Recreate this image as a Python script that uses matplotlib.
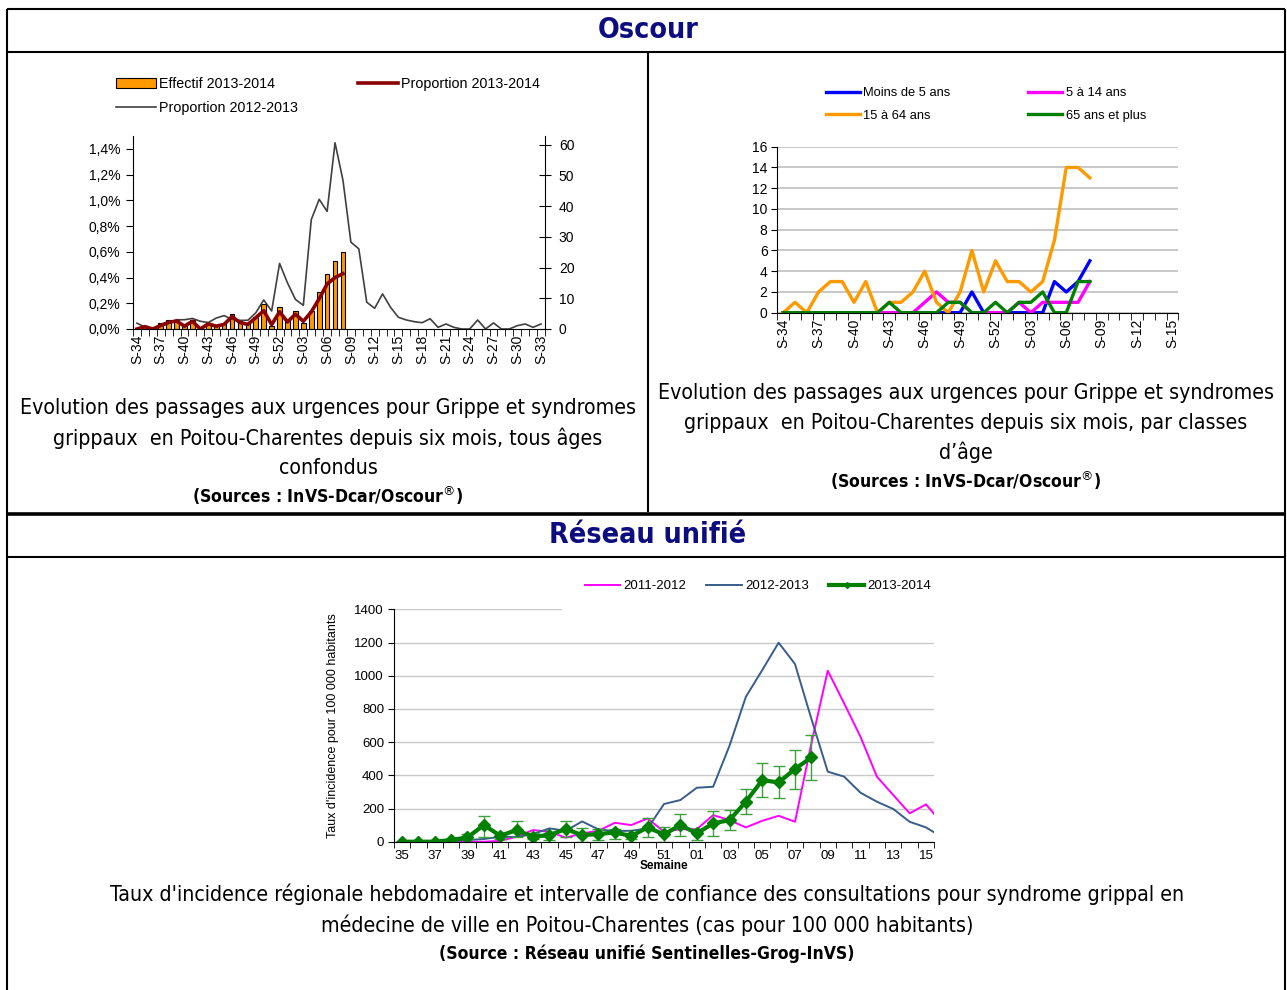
import matplotlib
matplotlib.use("Agg")
import matplotlib.pyplot as plt
import numpy as np
from matplotlib import font_manager as fm
from matplotlib.lines import Line2D

W, H = 1287, 990

# Oscour, all ages : S-34 .. S-33
weeks_all = list(range(34, 53)) + list(range(1, 34))
labels_all = ["S-%02d" % w for w in weeks_all]
effectif_1314 = [0, 1, 0, 2, 3, 3, 1, 3, 0, 2, 1, 2, 5, 3, 2, 4, 8, 1, 7, 3, 6, 2, 6, 12, 18, 22, 25]
prop_1314 = [0.0, 0.018, 0.0, 0.028, 0.052, 0.062, 0.022, 0.06, 0.0, 0.04, 0.022, 0.036, 0.096, 0.05,
             0.036, 0.088, 0.142, 0.034, 0.134, 0.055, 0.115, 0.06, 0.133, 0.235, 0.35, 0.4, 0.43]
prop_1213 = [0.045, 0.016, 0.0, 0.02, 0.042, 0.072, 0.072, 0.082, 0.06, 0.05, 0.085, 0.104, 0.075,
             0.067, 0.068, 0.126, 0.226, 0.14, 0.51, 0.358, 0.23, 0.184, 0.85, 1.008, 0.914, 1.447,
             1.156, 0.675, 0.623, 0.208, 0.161, 0.273, 0.169, 0.091, 0.07, 0.057, 0.049, 0.08, 0.013,
             0.039, 0.013, 0.0, 0.0, 0.07, 0.0, 0.047, 0.0, 0.0, 0.026, 0.039, 0.013, 0.039]

# Oscour by age group : S-34 .. S-15
weeks_age = list(range(34, 53)) + list(range(1, 16))
labels_age = ["S-%02d" % w for w in weeks_age]
age_moins5 = [0, 0, 0, 0, 0, 0, 0, 0, 0, 0, 0, 0, 0, 0, 0, 0, 2, 0, 0, 0, 0, 0, 0, 3, 2, 3, 5]
age_5_14 = [0, 0, 0, 0, 0, 0, 0, 0, 0, 0, 0, 0, 1, 2, 1, 1, 0, 0, 0, 0, 1, 0, 1, 1, 1, 1, 3]
age_15_64 = [0, 1, 0, 2, 3, 3, 1, 3, 0, 1, 1, 2, 4, 1, 0, 2, 6, 2, 5, 3, 3, 2, 3, 7, 14, 14, 13]
age_65 = [0, 0, 0, 0, 0, 0, 0, 0, 0, 1, 0, 0, 0, 0, 1, 1, 0, 0, 1, 0, 1, 1, 2, 0, 0, 3, 3]

# Reseau unifie : weeks 35 .. 15 (week 16 only shows as the line leaving the frame)
weeks_ru = list(range(35, 53)) + list(range(1, 17))
labels_ru = ["%02d" % w for w in weeks_ru]
inc_1112 = [0, 0, 0, 0, 0, 0, 5, 30, 70, 60, 24, 50, 66, 114, 100, 140, 60, 75, 75, 160, 130, 86,
            126, 156, 120, 592, 1030, 833, 632, 392, 281, 171, 225, 109]
inc_1213 = [0, 0, 0, 5, 10, 16, 30, 28, 46, 80, 66, 122, 74, 64, 66, 80, 227, 251, 325, 331, 578,
            873, 1034, 1199, 1070, 740, 422, 392, 295, 241, 197, 120, 86, 26]
inc_1314 = [0, 0, 0, 10, 26, 100, 36, 70, 30, 40, 76, 40, 46, 56, 34, 86, 44, 100, 50, 110, 130,
            241, 371, 357, 438, 508]
ic_bas = [0, 0, 0, 5, 14, 30, 14, 26, 14, 10, 26, 0, 10, 14, 14, 30, 0, 36, 10, 32, 70, 167, 271,
          261, 319, 371]
ic_haut = [0, 0, 0, 15, 44, 157, 54, 122, 50, 54, 127, 84, 78, 78, 50, 140, 90, 165, 78, 187, 191,
           319, 472, 456, 550, 643]

plt.rcParams["font.family"] = ["Liberation Sans", "DejaVu Sans"]
NAVY = "#0d0d80"


# look for a narrow face for the captions, fall back on Liberation Sans
def narrow_font(bold):
    for f in fm.fontManager.ttflist:
        fn = f.fname.lower()
        if not any(k in fn for k in ("narrow", "condensed")):
            continue
        if "italic" in fn or "oblique" in fn:
            continue
        if ("bold" in fn) != bold:
            continue
        return fm.FontProperties(fname=f.fname)
    return None


cap_reg = narrow_font(False)
cap_bold = narrow_font(True)
if cap_reg is not None and cap_bold is not None:
    CAP_SIZE, SRC_SIZE, TITLE_SIZE = 15.3, 12.6, 20.5
else:
    cap_reg = fm.FontProperties(family="Liberation Sans")
    cap_bold = fm.FontProperties(family="Liberation Sans", weight="bold")
    CAP_SIZE, SRC_SIZE, TITLE_SIZE = 14.2, 12, 20


def fx(x):
    return x / W


def fy(y):
    return 1 - y / H


fig = plt.figure(figsize=(W / 100, H / 100), dpi=100)


def line(xs, ys, lw=1.5):
    fig.add_artist(Line2D([fx(v) for v in xs], [fy(v) for v in ys], transform=fig.transFigure,
                          color="black", lw=lw, solid_capstyle="butt"))


# table frame
line([7, 1285], [9, 9])
line([7, 7], [9, 990])
line([1285, 1285], [9, 990])
line([7, 1285], [52, 52])
line([648, 648], [52, 512])
line([7, 1285], [513.5, 513.5], lw=2.6)
line([7, 1285], [557, 557])

fig.text(fx(648), fy(30), "Oscour", ha="center", va="center", fontproperties=cap_bold,
         fontsize=TITLE_SIZE, color=NAVY)
fig.text(fx(648), fy(535), "Réseau unifié", ha="center", va="center", fontproperties=cap_bold,
         fontsize=TITLE_SIZE, color=NAVY)


def caption(xc, ys, lines, bold_line):
    for y, t in zip(ys[:-1], lines):
        fig.text(fx(xc), fy(y), t, ha="center", va="center", fontproperties=cap_reg,
                 fontsize=CAP_SIZE)
    fig.text(fx(xc), fy(ys[-1]), bold_line, ha="center", va="center", fontproperties=cap_bold,
             fontsize=SRC_SIZE)


src = r"(Sources : InVS-Dcar/Oscour$^{\circledR}$)"
caption(328, [408, 438, 468, 496],
        ["Evolution des passages aux urgences pour Grippe et syndromes",
         "grippaux  en Poitou-Charentes depuis six mois, tous âges", "confondus"], src)
caption(966, [393, 423, 452, 481],
        ["Evolution des passages aux urgences pour Grippe et syndromes",
         "grippaux  en Poitou-Charentes depuis six mois, par classes", "d\u2019âge"], src)
caption(647, [894, 925, 954],
        ["Taux d'incidence régionale hebdomadaire et intervalle de confiance des consultations pour syndrome grippal en",
         "médecine de ville en Poitou-Charentes (cas pour 100 000 habitants)"],
        "(Source : Réseau unifié Sentinelles-Grog-InVS)")

# ---------------- chart 1 : all ages
ax1 = fig.add_axes([fx(133), fy(329), 412 / W, 193 / H])
ax2 = ax1.twinx()
ax1.set_zorder(ax2.get_zorder() + 1)
ax1.patch.set_visible(False)
x1 = np.arange(len(weeks_all))
bars = ax2.bar(x1[:len(effectif_1314)], effectif_1314, width=0.6, color="#ff9900",
               edgecolor="black", linewidth=0.8)
g, = ax1.plot(x1, prop_1213, color="#404040", lw=1.2)
r, = ax1.plot(x1[:len(prop_1314)], prop_1314, color="#8b0000", lw=2.6)
ax1.set_xlim(-0.5, len(weeks_all) - 0.5)
ax1.set_ylim(0, 1.5)
ax2.set_ylim(0, 62.8)
ax1.set_yticks(np.arange(0, 1.41, 0.2))
ax1.set_yticklabels([("%.1f%%" % v).replace(".", ",") for v in np.arange(0, 1.41, 0.2)])
ax2.set_yticks(range(0, 61, 10))
ax1.set_xticks(x1[::3])
ax1.set_xticklabels(labels_all[::3], rotation=90)
ax1.set_xticks(np.arange(-0.5, len(weeks_all), 1), minor=True)
ax1.tick_params(axis="x", which="major", length=0, pad=4, labelsize=10)
ax1.tick_params(axis="x", which="minor", length=5, direction="out")
ax1.tick_params(axis="y", length=5, labelsize=10, pad=4)
ax2.tick_params(axis="y", length=8, direction="inout", labelsize=10, pad=6)
for s in ["top", "right"]:
    ax1.spines[s].set_visible(False)
for s in ["top", "left", "bottom"]:
    ax2.spines[s].set_visible(False)
ax1.legend([bars, g, r], ["Effectif 2013-2014", "Proportion 2012-2013", "Proportion 2013-2014"],
           ncol=2, loc="center", bbox_to_anchor=(fx(328), fy(96)), bbox_transform=fig.transFigure,
           frameon=False, fontsize=10.3, handlelength=2.8, handletextpad=0.2, columnspacing=4.2,
           labelspacing=0.75)

# ---------------- chart 2 : by age
ax3 = fig.add_axes([fx(777.3), fy(312.7), 401 / W, 166 / H])
x3 = np.arange(len(weeks_age))
n = len(age_moins5)
l1, = ax3.plot(x3[:n], age_moins5, color="#0000ff", lw=2.4)
l2, = ax3.plot(x3[:n], age_5_14, color="#ff00ff", lw=2.4)
l3, = ax3.plot(x3[:n], age_15_64, color="#ff9900", lw=2.4)
l4, = ax3.plot(x3[:n], age_65, color="#008000", lw=2.4)
ax3.set_xlim(-0.5, len(weeks_age) - 0.5)
ax3.set_ylim(0, 16)
ax3.set_yticks(range(0, 17, 2))
ax3.yaxis.grid(True, color="#bfbfbf", lw=1.2)
ax3.set_axisbelow(True)
ax3.set_xticks(x3[::3])
ax3.set_xticklabels(labels_age[::3], rotation=90)
ax3.set_xticks(np.arange(-0.5, len(weeks_age), 1), minor=True)
ax3.tick_params(axis="x", which="major", length=0, pad=4, labelsize=10)
ax3.tick_params(axis="x", which="minor", length=5, direction="out")
ax3.tick_params(axis="y", length=4, labelsize=10, pad=3)
for s in ["top", "right"]:
    ax3.spines[s].set_visible(False)
ax3.legend([l1, l3, l2, l4], ["Moins de 5 ans", "15 à 64 ans", "5 à 14 ans", "65 ans et plus"],
           ncol=2, loc="center", bbox_to_anchor=(fx(986), fy(104.5)), bbox_transform=fig.transFigure,
           frameon=False, fontsize=9.3, handlelength=2.6, handletextpad=0.3, columnspacing=6,
           labelspacing=0.8)

# ---------------- chart 3 : reseau unifie
ax4 = fig.add_axes([fx(393.8), fy(841.7), 540.4 / W, 232.4 / H])
x4 = np.arange(len(weeks_ru))
p1, = ax4.plot(x4, inc_1112, color="#ff00ff", lw=1.4)
p2, = ax4.plot(x4, inc_1213, color="#385d8a", lw=1.4)
m = len(inc_1314)
v = np.array(inc_1314)
ax4.errorbar(x4[:m], v, yerr=[v - np.array(ic_bas), np.array(ic_haut) - v], fmt="none",
             ecolor="#3ca03c", elinewidth=1, capsize=4, capthick=1)
p3, = ax4.plot(x4[:m], v, color="#008000", lw=3, marker="D", markersize=6)
ax4.set_xlim(-0.5, 32.5)
ax4.set_ylim(0, 1400)
ax4.set_yticks(range(0, 1401, 200))
ax4.yaxis.grid(True, color="#c8c8c8", lw=1)
ax4.set_axisbelow(True)
ax4.set_xticks(x4[:33:2])
ax4.set_xticklabels(labels_ru[:33:2])
ax4.set_xticks(np.arange(-0.5, 33, 1), minor=True)
ax4.tick_params(axis="x", which="major", length=0, pad=6, labelsize=9.5)
ax4.tick_params(axis="x", which="minor", length=4, direction="out")
ax4.tick_params(axis="y", length=4, labelsize=9.5, pad=3)
for s in ["top", "right"]:
    ax4.spines[s].set_visible(False)
ax4.set_xlabel("Semaine", fontsize=8.5, fontweight="bold", labelpad=-1.5)
ax4.set_ylabel("Taux d'incidence pour 100 000 habitants", fontsize=9, labelpad=11)
ax4.legend([p1, p2, p3], ["2011-2012", "2012-2013", "2013-2014"], ncol=3, loc="center",
           bbox_to_anchor=(fx(758), fy(586)), bbox_transform=fig.transFigure, fontsize=9.5,
           frameon=True, facecolor="white", edgecolor="none", framealpha=1, borderpad=1.7,
           handlelength=2.7, handletextpad=0.25, columnspacing=1.5, markerscale=0.5)

fig.savefig("out.png", dpi=100)
